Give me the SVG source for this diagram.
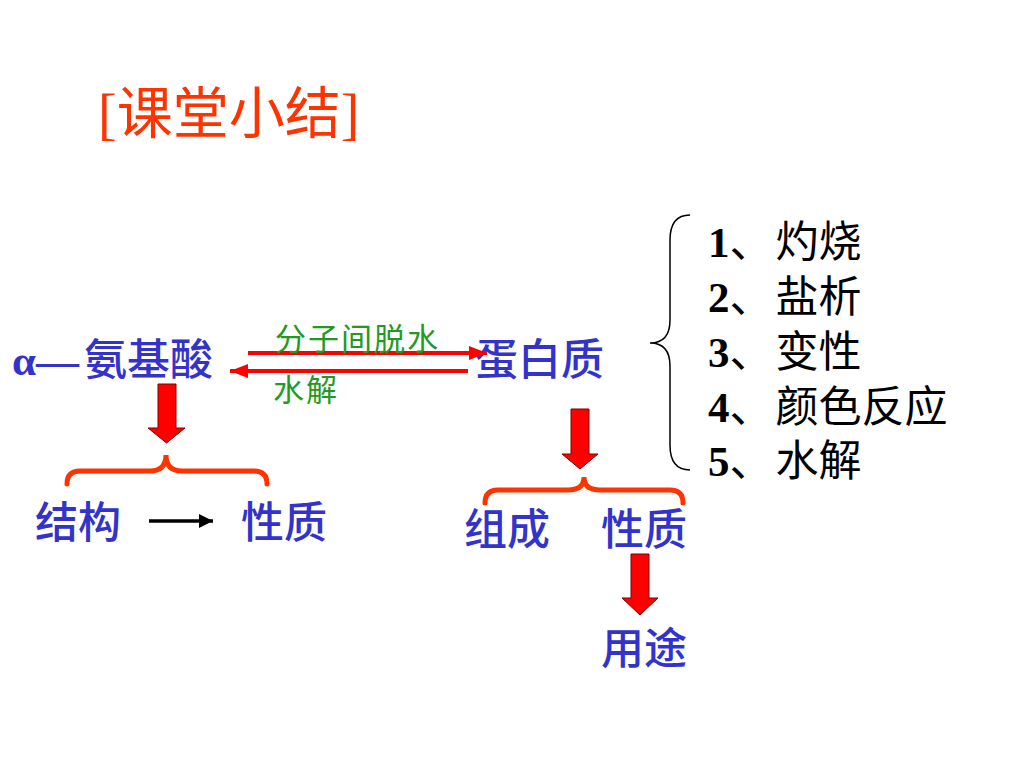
<svg xmlns="http://www.w3.org/2000/svg" width="1024" height="768" viewBox="0 0 1024 768">
<style>
.t{font-family:"Noto Sans CJK SC","Noto Sans",sans-serif;}
.blue{fill:#3333CC;font-size:43px;font-weight:500;}
.green{fill:#229922;font-size:31px;letter-spacing:2px;}
.list{fill:#000;font-size:43px;}
.num{font-family:"Liberation Serif",serif;font-weight:bold;}
.block{fill:#FF0000;stroke:#800000;stroke-width:1;}
.brace{fill:none;stroke:#FF3300;stroke-width:5;stroke-linecap:round;}
.line{stroke:#FF0000;stroke-width:4;fill:none;}
</style>
<defs>
<marker id="redHead" viewBox="0 0 10 10" refX="10" refY="5" markerWidth="4.5" markerHeight="3.5" orient="auto" markerUnits="strokeWidth" preserveAspectRatio="none">
<path d="M0,0 L10,5 L0,10 Z" fill="#FF0000"/>
</marker>
<marker id="blackHead" viewBox="0 0 10 10" refX="10" refY="5" markerWidth="4" markerHeight="4" orient="auto" markerUnits="strokeWidth" preserveAspectRatio="none">
<path d="M0,0 L10,5 L0,10 Z" fill="#000"/>
</marker>
</defs>
<rect width="1024" height="768" fill="#FFFFFF"/>

<g id="title">
<text x="98" y="133" class="t" font-size="56" fill="#FF3300"><tspan font-family="Liberation Serif, serif">[</tspan>课堂小结<tspan font-family="Liberation Serif, serif">]</tspan></text>
</g>

<g id="amino-acid">
<text x="12" y="375" class="t blue"><tspan font-family="Liberation Serif, serif" font-weight="bold">α—</tspan><tspan x="84">氨基酸</tspan></text>
</g>

<g id="protein">
<text x="475" y="375" class="t blue">蛋白质</text>
</g>

<g id="structure">
<text x="35" y="538" class="t blue">结构</text>
</g>

<g id="property1">
<text x="241" y="538" class="t blue">性质</text>
</g>

<g id="composition">
<text x="464" y="545" class="t blue">组成</text>
</g>

<g id="property2">
<text x="601" y="545" class="t blue">性质</text>
</g>

<g id="use">
<text x="601" y="664" class="t blue">用途</text>
</g>

<g id="list">
<path d="M690,215 Q670,215 670,240 L670,320 Q670,343 650,343 Q670,343 670,366 L670,445 Q670,470 690,470" fill="none" stroke="#000" stroke-width="1.5"/>
<text x="708" y="257" class="t list"><tspan class="num">1</tspan>、<tspan dx="3">灼烧</tspan></text>
<text x="708" y="312" class="t list"><tspan class="num">2</tspan>、<tspan dx="3">盐析</tspan></text>
<text x="708" y="367" class="t list"><tspan class="num">3</tspan>、<tspan dx="3">变性</tspan></text>
<text x="708" y="422" class="t list"><tspan class="num">4</tspan>、<tspan dx="3">颜色反应</tspan></text>
<text x="708" y="476" class="t list"><tspan class="num">5</tspan>、<tspan dx="3">水解</tspan></text>
</g>

<g id="connectors">
<line class="line" x1="248" y1="353" x2="487" y2="353" marker-end="url(#redHead)"/>
<line class="line" x1="468" y1="371" x2="230" y2="371" marker-end="url(#redHead)"/>
<text x="275" y="350" class="t green">分子间脱水</text>
<text x="273" y="401" class="t green">水解</text>

<line x1="149" y1="521" x2="213" y2="521" stroke="#000" stroke-width="3.5" marker-end="url(#blackHead)"/>

<polygon class="block" points="158,384 176,384 176,428 185,428 166.5,443 148,428 158,428"/>
<polygon class="block" points="571,409 589,409 589,454 598,454 580,469 562,454 571,454"/>
<polygon class="block" points="631,554 649,554 649,598 658,598 640,615 622,598 631,598"/>

<path class="brace" d="M67,484 Q67,471 80,471 L150,471 Q166,471 166,455 Q166,471 182,471 L254,471 Q267,471 267,484"/>
<path class="brace" d="M485,503 Q485,490 498,490 L568,490 Q584,490 584,477 Q584,490 600,490 L670,490 Q683,490 683,503"/>
</g>
</svg>
